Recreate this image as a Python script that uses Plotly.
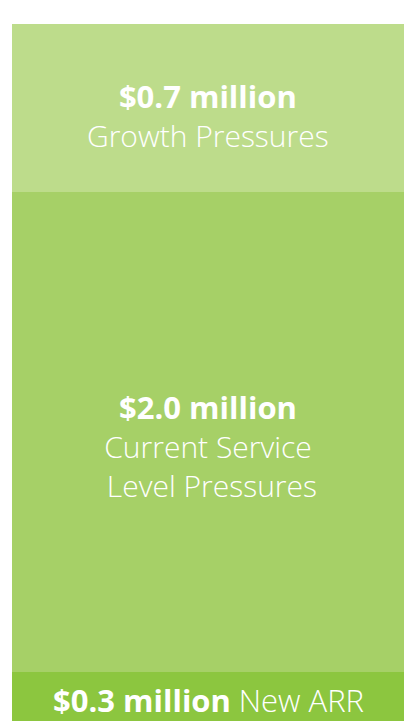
import plotly.graph_objects as go

segments = ["New ARR", "Current Service Level Pressures", "Growth Pressures"]
values = [0.3, 2.0, 0.7]
colors = ["#8CC63F", "#A6D067", "#BDDC8B"]
amounts = ["$0.3 million", "$2.0 million", "$0.7 million"]
labels = ["New ARR", "Current Service<br> Level Pressures", "Growth Pressures"]

fig = go.Figure()
for name, v, c in zip(segments, values, colors):
    fig.add_trace(go.Bar(x=["Budget"], y=[v], name=name, marker=dict(color=c, line=dict(width=0)),
                         hoverinfo="skip", width=1))

cum = [sum(values[:i]) for i in range(len(values) + 1)]
font_l = dict(family="Open Sans", size=30, color="white", weight=300)

def ann(text, y, yshift, font):
    fig.add_annotation(x=0, y=y, xref="x", yref="y", text=text, showarrow=False,
                       yshift=yshift, font=font, xanchor="center", yanchor="middle",
                       borderpad=0)

big = '<span style="font-size:31px"><b>%s</b></span>'
# Growth Pressures
ann(big % amounts[2] + "<br>" + labels[2], (cum[2] + cum[3]) / 2, -7, font_l)
# Current Service Level Pressures
ann(big % amounts[1] + "<br>" + labels[1], (cum[1] + cum[2]) / 2, -14, font_l)
# New ARR
ann(big % amounts[0] + " " + '<span style="font-size:31px">%s</span>' % labels[0], cum[1], -28, font_l)

fig.update_layout(
    width=404, height=721,
    margin=dict(l=12, r=0, t=0, b=0),
    barmode="stack", bargap=0,
    showlegend=False,
    paper_bgcolor="white", plot_bgcolor="white",
    xaxis=dict(visible=False, range=[-0.5, 0.5]),
    yaxis=dict(visible=False, range=[0.0958, 3.1]),
)
fig.write_html("out.html", config={"displayModeBar": False})
